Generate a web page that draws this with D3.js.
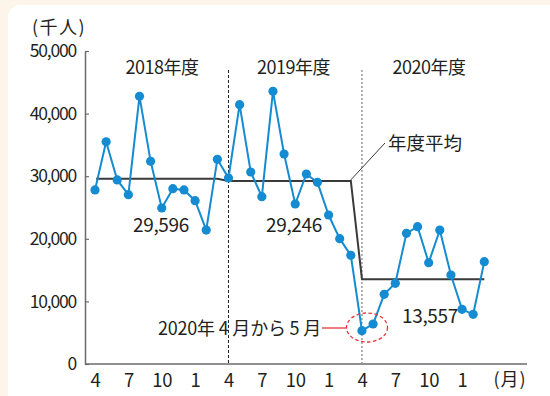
<!DOCTYPE html>
<html>
<head>
<meta charset="utf-8">
<script src="https://cdn.jsdelivr.net/npm/d3@7"></script>
<style>
  html, body { margin: 0; padding: 0; background: #fdf5e9; }
  svg { display: block; }
  text { font-family: "Noto Sans CJK JP", "Noto Sans", sans-serif; fill: #231f20; }
</style>
</head>
<body>
<svg id="chart" width="550" height="396"></svg>
<script>
// Monthly visitors (thousands), April 2018 – March 2021
const fy2018 = [27800, 35500, 29400, 27050, 42760, 32380, 24920, 28000, 27800, 26090, 21400, 32700];
const fy2019 = [29710, 41420, 30670, 26730, 43560, 33550, 25560, 30350, 29020, 23800, 20020, 17360];
const fy2020 = [5330, 6390, 11130, 12890, 20870, 21940, 16190, 21400, 14220, 8740, 7940, 16350];
const yearLabels = ["2018年度", "2019年度", "2020年度"];
const yearAverages = [29596, 29246, 13557];
const avgLabels = ["29,596", "29,246", "13,557"];
const monthTicks = ["4", "7", "10", "1", "4", "7", "10", "1", "4", "7", "10", "1"];
const yTicks = [0, 10000, 20000, 30000, 40000, 50000];

const values = fy2018.concat(fy2019, fy2020);

const svg = d3.select("#chart");

// white card
svg.append("rect")
  .attr("x", 8).attr("y", 5).attr("width", 560).attr("height", 420)
  .attr("rx", 12).attr("fill", "#ffffff");

const x = d3.scaleLinear().domain([0, 35]).range([95, 484.3]);
const y = d3.scaleLinear().domain([0, 50000]).range([364, 51]);
const axisX = 85;

// y axis
const yAxis = svg.append("g")
  .attr("transform", `translate(${axisX},0)`)
  .call(d3.axisLeft(y).tickValues(yTicks).tickFormat(d3.format(",")).tickSizeInner(-4).tickSizeOuter(0).tickPadding(9));
yAxis.select(".domain").attr("stroke", "#6b6b6b").attr("stroke-width", 1.5);
yAxis.selectAll(".tick line").attr("stroke", "#6b6b6b").attr("stroke-width", 1.2);
yAxis.selectAll(".tick text").attr("font-size", 17.5).attr("letter-spacing", -1.2)
  .attr("font-family", '"Noto Sans CJK JP", sans-serif').attr("fill", "#231f20");

// x axis
const xAxis = svg.append("g")
  .attr("transform", `translate(0,${y(0)})`)
  .call(d3.axisBottom(x).tickValues(d3.range(0, 36, 3)).tickFormat((d, i) => monthTicks[i]).tickSize(0).tickPadding(10));
xAxis.select(".domain").attr("d", `M${axisX},0H527`).attr("stroke", "#6b6b6b").attr("stroke-width", 1.5);
xAxis.selectAll(".tick text").attr("font-size", 18.5).attr("letter-spacing", -0.3)
  .attr("font-family", '"Noto Sans CJK JP", sans-serif').attr("fill", "#231f20");

// unit labels
svg.append("text").attr("x", 59).attr("y", 34).attr("text-anchor", "middle")
  .attr("font-size", 18).attr("letter-spacing", 1.5).text("(千人)");
svg.append("text").attr("x", 510).attr("y", 386).attr("text-anchor", "middle")
  .attr("font-size", 18).attr("letter-spacing", 1).text("(月)");

// fiscal-year dividers
svg.append("line").attr("x1", x(12)).attr("x2", x(12)).attr("y1", 70).attr("y2", y(0))
  .attr("stroke", "#231f20").attr("stroke-width", 1).attr("stroke-dasharray", "3,2");
svg.append("line").attr("x1", x(24)).attr("x2", x(24)).attr("y1", 70).attr("y2", y(0))
  .attr("stroke", "#8a8a8a").attr("stroke-width", 1.3).attr("stroke-dasharray", "2,2");

// year headings
yearLabels.forEach((t, i) => {
  svg.append("text").attr("x", [162, 293.5, 429][i]).attr("y", 74).attr("text-anchor", "middle")
    .attr("font-size", 18).attr("letter-spacing", -0.5).text(t);
});

// fiscal-year average line
const avgPts = [];
yearAverages.forEach((a, i) => { avgPts.push([i * 12, a]); avgPts.push([i * 12 + 11, a]); });
avgPts[0][0] = 0.1;
svg.append("path")
  .datum(avgPts)
  .attr("d", d3.line().x(d => x(d[0])).y(d => y(d[1])))
  .attr("fill", "none").attr("stroke", "#3a3a3a").attr("stroke-width", 2);

// leader + label for the average line
svg.append("line").attr("x1", x(23)).attr("y1", y(yearAverages[1]) - 1).attr("x2", 385).attr("y2", 143)
  .attr("stroke", "#3a3a3a").attr("stroke-width", 1);
svg.append("text").attr("x", 388).attr("y", 150).attr("font-size", 18.5).text("年度平均");

// average value labels
[[161, 232], [294, 232], [430, 323]].forEach((p, i) => {
  svg.append("text").attr("x", p[0]).attr("y", p[1]).attr("text-anchor", "middle")
    .attr("font-size", 19).attr("letter-spacing", -0.3).text(avgLabels[i]);
});

// monthly series
svg.append("path")
  .datum(values)
  .attr("d", d3.line().x((d, i) => x(i)).y(d => y(d)))
  .attr("fill", "none").attr("stroke", "#158bd2").attr("stroke-width", 2);
svg.selectAll("circle.pt").data(values).enter().append("circle")
  .attr("class", "pt")
  .attr("cx", (d, i) => x(i)).attr("cy", d => y(d)).attr("r", 4.6)
  .attr("fill", "#158bd2");

// callout for the April–May 2020 drop
const cx = (x(24) + x(25)) / 2 - 1.5;
svg.append("ellipse").attr("cx", cx + 1).attr("cy", 327.5).attr("rx", 20.5).attr("ry", 14.5)
  .attr("fill", "none").attr("stroke", "#e8333b").attr("stroke-width", 1.3).attr("stroke-dasharray", "3.5,2.5");
svg.append("line").attr("x1", 322).attr("x2", cx - 19.5).attr("y1", 328).attr("y2", 328)
  .attr("stroke", "#e8333b").attr("stroke-width", 1.3);
svg.append("text").attr("x", 321).attr("y", 335).attr("text-anchor", "end")
  .attr("font-size", 18).attr("letter-spacing", -0.2).text("2020年 4 月から 5 月");
</script>
</body>
</html>
